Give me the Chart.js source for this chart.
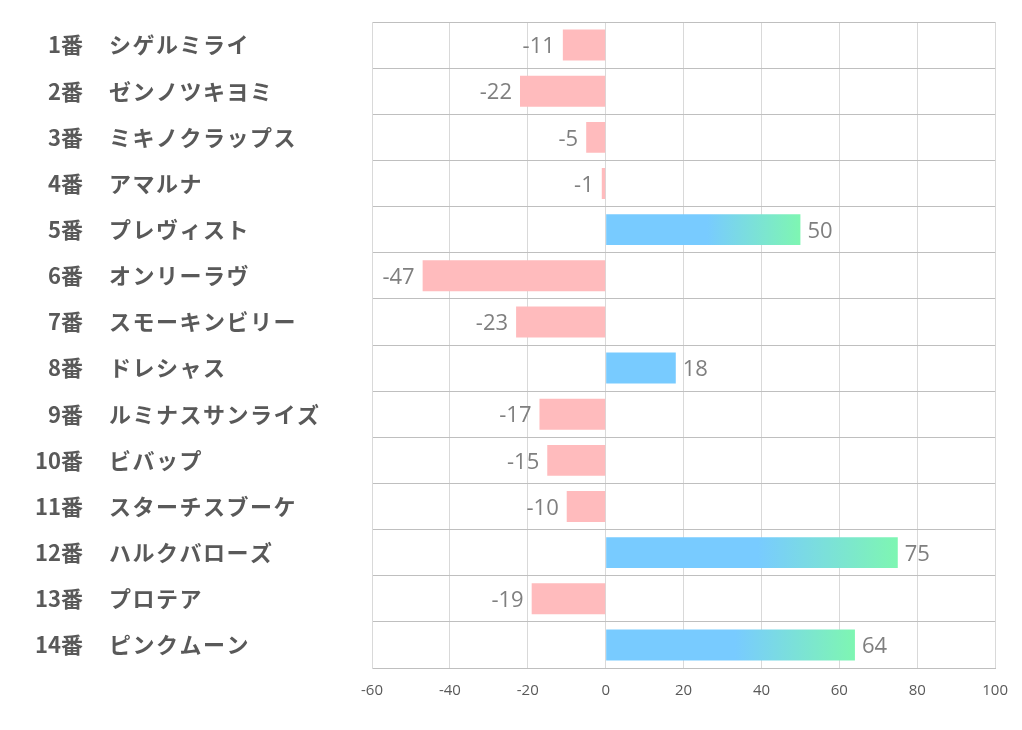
<!DOCTYPE html>
<html>
<head>
<meta charset="utf-8">
<script src="https://cdn.jsdelivr.net/npm/chart.js@4/dist/chart.umd.min.js"></script>
<style>
  body { margin: 0; background: #fff; }
</style>
</head>
<body>
<canvas id="myChart" width="1022" height="730"></canvas>
<script>
// data
var numbers = ["1番", "2番", "3番", "4番", "5番", "6番", "7番", "8番", "9番", "10番", "11番", "12番", "13番", "14番"];
var horses = ["シゲルミライ", "ゼンノツキヨミ", "ミキノクラップス", "アマルナ", "プレヴィスト", "オンリーラヴ", "スモーキンビリー",
              "ドレシャス", "ルミナスサンライズ", "ビバップ", "スターチスブーケ", "ハルクバローズ", "プロテア", "ピンクムーン"];
var values = [-11, -22, -5, -1, 50, -47, -23, 18, -17, -15, -10, 75, -19, 64];
var xTicks = [-60, -40, -20, 0, 20, 40, 60, 80, 100];

var BLUE = '#78CBFF';
var GREEN = '#7EF6B2';
var PINK = '#FFBBBD';

function barColor(c) {
    var v = c.raw;
    if (v < 0) return PINK;
    var chart = c.chart;
    if (!chart.chartArea) return BLUE;
    if (v < 30) return BLUE;
    var xs = chart.scales.x;
    var x0 = xs.getPixelForValue(0);
    var x1 = xs.getPixelForValue(v);
    var g = chart.ctx.createLinearGradient(x0, 0, x1, 0);
    g.addColorStop(0, BLUE);
    g.addColorStop(0.52, BLUE);
    g.addColorStop(1, GREEN);
    return g;
}

// left side labels: number right aligned, name left aligned
var rowLabels = {
    id: 'rowLabels',
    afterDraw: function (chart) {
        var ctx = chart.ctx;
        var ys = chart.scales.y;
        ctx.save();
        ctx.fillStyle = '#595959';
        ctx.font = 'bold 22px "Noto Sans CJK JP"';
        ctx.textBaseline = 'middle';
        for (var i = 0; i < numbers.length; i++) {
            var y = ys.getPixelForValue(i);
            ctx.letterSpacing = '0px';
            ctx.textAlign = 'right';
            ctx.fillText(numbers[i], 83, y);
            ctx.letterSpacing = '1.5px';
            ctx.textAlign = 'left';
            ctx.fillText(horses[i], 109, y);
        }
        ctx.restore();
    }
};

// value labels at bar ends
var valueLabels = {
    id: 'valueLabels',
    afterDatasetsDraw: function (chart) {
        var ctx = chart.ctx;
        var meta = chart.getDatasetMeta(0);
        ctx.save();
        ctx.fillStyle = '#7F7F7F';
        ctx.font = '22px "Open Sans"';
        ctx.textBaseline = 'middle';
        meta.data.forEach(function (bar, i) {
            var v = values[i];
            if (v < 0) {
                ctx.textAlign = 'right';
                ctx.fillText(String(v), bar.x - 8, bar.y + 2);
            } else {
                ctx.textAlign = 'left';
                ctx.fillText(String(v), bar.x + 7, bar.y + 2);
            }
        });
        ctx.restore();
    }
};

var ctx = document.getElementById('myChart').getContext('2d');
var chart = new Chart(ctx, {
    type: 'bar',
    data: {
        labels: horses,
        datasets: [{
            data: values,
            backgroundColor: barColor,
            borderWidth: 0,
            categoryPercentage: 1,
            barPercentage: 0.67
        }]
    },
    options: {
        indexAxis: 'y',
        responsive: false,
        animation: false,
        devicePixelRatio: 1,
        layout: { padding: { top: 22, right: 26, bottom: 0, left: 0 } },
        plugins: {
            legend: { display: false },
            tooltip: { enabled: false }
        },
        scales: {
            x: {
                min: -60,
                max: 100,
                afterBuildTicks: function (axis) {
                    axis.ticks = xTicks.map(function (v) { return { value: v }; });
                },
                afterFit: function (axis) { axis.height = 62; },
                grid: { color: '#D9D9D9', drawTicks: false },
                border: { color: '#BFBFBF' },
                ticks: {
                    color: '#595959',
                    font: { family: '"Open Sans"', size: 15 },
                    padding: 14
                }
            },
            y: {
                afterFit: function (axis) { axis.width = 372; },
                grid: { offset: true, color: '#BFBFBF', drawTicks: false },
                border: { color: '#D9D9D9' },
                ticks: { display: false }
            }
        }
    },
    plugins: [rowLabels, valueLabels]
});
</script>
</body>
</html>
